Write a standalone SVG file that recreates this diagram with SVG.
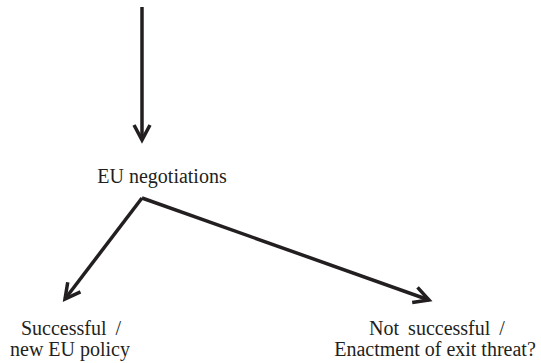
<svg xmlns="http://www.w3.org/2000/svg" width="541" height="363" viewBox="0 0 541 363">
<style>
  .lbl { font-family: "Liberation Serif", "Times New Roman", serif; font-size: 20px; fill: #231f20; text-anchor: middle; }
  .conn { stroke: #231f20; stroke-width: 3.5; fill: none; marker-end: url(#head); }
  .wide { word-spacing: 4px; }
</style>
<defs>
  <marker id="head" viewBox="0 0 24 24" markerWidth="24" markerHeight="24" refX="18" refY="12" orient="auto" markerUnits="userSpaceOnUse">
    <path d="M3,4 L18,12 L3,20" fill="none" stroke="#231f20" stroke-width="3.5" stroke-linejoin="miter"/>
  </marker>
</defs>
<rect width="541" height="363" fill="#ffffff"/>
<g id="connectors">
  <line class="conn" x1="142" y1="7" x2="142" y2="140"/>
  <line class="conn" x1="142" y1="198" x2="65" y2="299"/>
  <line class="conn" x1="142" y1="198" x2="429" y2="300"/>
</g>
<g id="node-eu-negotiations">
  <text class="lbl" x="162" y="183">EU negotiations</text>
</g>
<g id="node-successful">
  <text class="lbl wide" x="71" y="335">Successful /</text>
  <text class="lbl" x="70" y="356">new EU policy</text>
</g>
<g id="node-not-successful">
  <text class="lbl wide" x="437" y="335">Not successful /</text>
  <text class="lbl" x="435" y="356">Enactment of exit threat?</text>
</g>
</svg>
